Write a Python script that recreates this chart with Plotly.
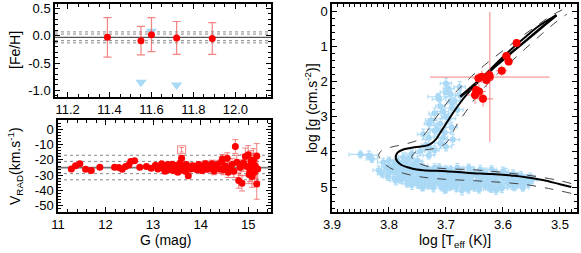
import plotly.graph_objects as go

# ---------------- DATA ----------------
# Top-left: [Fe/H] vs G (giants)
feh_g = [11.39, 11.55, 11.60, 11.72, 11.89]
feh_val = [-0.03, -0.09, 0.02, -0.04, -0.05]
feh_err = [0.36, 0.26, 0.31, 0.30, 0.29]
feh_lim_g = [11.55, 11.60, 11.72]
feh_lim_val = [-0.85, 0.08, -0.90]
feh_mean = -0.03
feh_dots = [0.07, 0.03, -0.09, -0.13]
feh_xticks = [11.2, 11.4, 11.6, 11.8, 12.0]
feh_yticks = [0.5, 0.0, -0.5, -1.0]
feh_yticktext = ["0.5", "0.0", "-0.5", "-1.0"]

# Bottom-left: radial velocity vs G
rv_g = [11.28, 11.37, 11.46, 11.58, 11.70, 11.88, 12.19, 12.28, 12.35, 12.42,
        12.49, 12.53, 12.61, 12.72, 12.86, 12.96,
        13.05, 13.10, 13.14, 13.18, 13.22, 13.25, 13.28, 13.31, 13.34, 13.37,
        13.40, 13.42, 13.45, 13.47, 13.50, 13.52, 13.55, 13.57, 13.60, 13.62,
        13.65, 13.68, 13.70, 13.74, 13.76, 13.80, 13.83, 13.86, 13.90, 13.93,
        13.96, 14.00, 14.03, 14.06, 14.10, 14.13, 14.17, 14.20, 14.24, 14.28,
        14.32, 14.36, 14.40, 14.44, 14.46, 14.48, 14.52, 14.56, 14.58, 14.62,
        14.66, 14.70, 14.73, 14.76, 14.80, 14.83, 14.87, 14.90, 14.94, 14.97,
        15.00, 15.02, 15.04, 15.06, 15.08, 15.08, 15.10, 15.11, 15.13, 15.15,
        15.18, 15.18, 15.20]
rv_val = [-25.9, -23.9, -22.6, -26.1, -27.0, -24.8, -24.8, -25.0, -26.1, -24.3,
          -23.3, -21.1, -20.6, -24.8, -24.3, -25.4,
          -23.5, -26.0, -24.8, -22.5, -25.5, -27.5, -24.0, -23.0, -26.5, -25.0,
          -22.8, -27.0, -24.5, -26.2, -23.5, -28.0, -25.5, -22.0, -18.9, -26.8,
          -24.0, -27.5, -23.0, -30.4, -25.0, -26.0, -23.8, -25.5, -24.5, -26.5,
          -23.0, -25.0, -27.0, -24.3, -22.5, -26.0, -24.0, -25.5, -22.6, -27.2,
          -24.8, -23.0, -26.0, -21.0, -19.5, -26.5, -24.0, -18.9, -28.0, -25.4,
          -23.0, -27.5, -11.3, -21.5, -33.5, -25.0, -35.3, -22.0, -17.8, -24.3,
          -16.7, -29.5, -27.6, -20.5, -22.6, -30.9, -25.5, -20.2, -28.0, -24.0,
          -17.4, -35.7, -26.0]
rv_err = [1.0, 1.0, 1.0, 1.0, 1.0, 1.0, 1.0, 1.0, 1.0, 1.0,
          1.0, 1.0, 1.0, 1.0, 1.0, 1.0,
          1.0, 1.0, 1.0, 1.0, 1.2, 1.2, 1.2, 1.2, 1.2, 1.2,
          1.3, 1.3, 1.3, 1.3, 1.3, 1.4, 1.4, 1.4, 1.5, 1.5,
          1.5, 1.5, 1.5, 1.6, 1.6, 1.6, 1.7, 1.7, 1.8, 1.8,
          1.9, 1.9, 2.0, 2.0, 2.1, 2.2, 2.3, 2.3, 2.4, 2.5,
          2.6, 2.7, 2.8, 3.0, 3.0, 3.2, 3.3, 3.5, 3.5, 3.8,
          4.0, 4.0, 4.5, 4.5, 5.0, 5.0, 5.0, 5.5, 5.5, 6.0,
          6.0, 6.0, 6.5, 6.5, 7.0, 7.0, 7.0, 7.5, 7.5, 8.0,
          8.0, 10.0, 8.0]
rv_out_g = [13.60]
rv_out_val = [-13.4]
rv_out_err = [1.5]
rv_mean = -25.0
rv_dots = [-17.0, -21.0, -29.0, -33.0]
rv_xticks = [11, 12, 13, 14, 15]
rv_yticks = [0, -10, -20, -30, -40, -50]
rv_yticktext = ["0", "-10", "-20", "-30", "-40", "-50"]

# Right: Kiel diagram — giants (red)
hr_teff = [3.576, 3.594, 3.590, 3.602, 3.624, 3.629, 3.637, 3.643, 3.647, 3.642, 3.649, 3.635]
hr_logg = [0.90, 1.27, 1.43, 1.69, 1.81, 1.95, 1.86, 1.90, 2.24, 2.28, 2.38, 2.49]
hr_teff_err = [0.006, 0.008, 0.008, 0.010, 0.010, 0.012, 0.012, 0.010, 0.012, 0.012, 0.014, 0.018]
hr_logg_err = [0.10, 0.12, 0.12, 0.15, 0.15, 0.20, 0.18, 0.15, 0.20, 0.20, 0.25, 0.22]
hr_big_teff = [3.623]
hr_big_logg = [1.87]
hr_big_teff_err = [0.105]
hr_big_logg_err = [1.85]

# Right: dwarfs / subgiants (light blue)
dw_teff = [3.850, 3.835, 3.830, 3.800, 3.790, 3.795, 3.785, 3.780, 3.775, 3.770,
           3.770, 3.765, 3.760, 3.755, 3.750, 3.750, 3.745, 3.740, 3.735, 3.730,
           3.725, 3.720, 3.715, 3.710, 3.705, 3.700, 3.695, 3.690, 3.685, 3.680,
           3.675, 3.670, 3.665, 3.660, 3.655, 3.650, 3.645, 3.640, 3.635, 3.630,
           3.625, 3.620, 3.615, 3.610, 3.605, 3.600, 3.595, 3.590, 3.585, 3.580,
           3.575, 3.570, 3.565, 3.560, 3.555, 3.550, 3.790, 3.780, 3.760, 3.740,
           3.720, 3.700, 3.680, 3.660, 3.640, 3.620, 3.600, 3.700, 3.660, 3.805,
           3.775, 3.760, 3.745, 3.730, 3.720, 3.765, 3.750, 3.700, 3.690, 3.680,
           3.700, 3.710, 3.720, 3.730, 3.705, 3.690, 3.675, 3.695, 3.710, 3.720,
           3.730, 3.740, 3.735, 3.710, 3.714, 3.785, 3.770, 3.755, 3.735, 3.715,
           3.695, 3.675, 3.655, 3.635, 3.615, 3.595, 3.575, 3.745, 3.725, 3.705,
           3.685, 3.665, 3.645, 3.625, 3.605, 3.585, 3.565, 3.810, 3.800, 3.790,
           3.800, 3.780, 3.760, 3.742, 3.712, 3.818, 3.792, 3.772, 3.752, 3.732,
           3.692, 3.652, 3.812, 3.782, 3.762, 3.738, 3.722, 3.702, 3.682, 3.642,
           3.612, 3.582, 3.802, 3.772, 3.748, 3.728, 3.708, 3.688, 3.668, 3.628,
           3.598, 3.568, 3.552, 3.788, 3.758, 3.738, 3.718, 3.698, 3.678, 3.658,
           3.638, 3.618, 3.588, 3.562, 3.768, 3.748, 3.728, 3.708, 3.688, 3.668,
           3.648, 3.628, 3.608, 3.578, 3.742, 3.722, 3.702, 3.682, 3.662, 3.642,
           3.622, 3.602, 3.702, 3.672, 3.642, 3.612, 3.700, 3.692, 3.685, 3.712,
           3.705, 3.695, 3.726, 3.716, 3.702, 3.688, 3.676, 3.690, 3.700, 3.728]
dw_logg = [4.07, 4.10, 4.20, 4.25, 4.35, 4.50, 4.60, 4.45, 4.70, 4.55,
           4.30, 4.80, 4.62, 4.50, 4.72, 4.90, 4.60, 4.80, 4.68, 4.95,
           4.55, 4.75, 4.85, 4.65, 4.90, 4.60, 4.78, 4.98, 4.70, 4.85,
           4.55, 4.95, 4.75, 4.62, 4.88, 5.02, 4.70, 4.80, 4.58, 4.95,
           4.75, 5.05, 4.68, 4.85, 4.95, 4.72, 4.62, 4.90, 4.78, 5.00,
           4.70, 4.85, 4.95, 4.75, 4.88, 4.80, 4.40, 4.80, 4.95, 5.00,
           4.45, 4.50, 4.45, 4.45, 4.50, 4.50, 4.55, 5.05, 5.05, 4.45,
           4.15, 4.05, 3.98, 4.10, 3.95, 4.20, 4.25, 2.30, 2.60, 2.80,
           3.00, 3.20, 3.40, 3.60, 3.60, 3.30, 2.40, 2.20, 2.70, 2.90,
           3.20, 3.50, 3.80, 3.75, 2.43, 4.25, 4.40, 4.35, 4.50, 4.52,
           4.62, 4.65, 4.68, 4.70, 4.72, 4.75, 4.80, 4.85, 4.90, 4.95,
           4.92, 4.90, 4.95, 4.98, 5.00, 4.95, 5.02, 4.30, 4.60, 4.75,
           4.42, 4.38, 4.41, 4.39, 4.44, 4.52, 4.49, 4.51, 4.48, 4.53,
           4.50, 4.55, 4.62, 4.60, 4.58, 4.61, 4.59, 4.63, 4.60, 4.64,
           4.62, 4.63, 4.71, 4.69, 4.72, 4.70, 4.71, 4.69, 4.73, 4.70,
           4.72, 4.68, 4.70, 4.82, 4.80, 4.81, 4.79, 4.82, 4.80, 4.83,
           4.81, 4.79, 4.82, 4.78, 4.90, 4.91, 4.89, 4.92, 4.90, 4.93,
           4.91, 4.89, 4.92, 4.90, 5.00, 5.02, 4.99, 5.01, 5.03, 5.00,
           5.02, 5.04, 5.08, 5.10, 5.07, 5.09, 2.05, 2.35, 2.55, 2.50,
           2.85, 3.05, 3.10, 3.35, 3.45, 3.65, 2.15, 2.75, 3.85, 3.90]
dw_teff_err = [0.020, 0.015, 0.010, 0.010, 0.010, 0.012, 0.010, 0.008, 0.010, 0.008,
               0.010, 0.010, 0.008, 0.010, 0.008, 0.010, 0.008, 0.010, 0.008, 0.010,
               0.008, 0.010, 0.008, 0.010, 0.008, 0.010, 0.008, 0.010, 0.008, 0.010,
               0.008, 0.010, 0.008, 0.010, 0.012, 0.010, 0.008, 0.012, 0.008, 0.010,
               0.008, 0.010, 0.008, 0.010, 0.008, 0.012, 0.008, 0.010, 0.008, 0.010,
               0.008, 0.010, 0.008, 0.010, 0.008, 0.010, 0.010, 0.008, 0.010, 0.008,
               0.010, 0.008, 0.010, 0.008, 0.010, 0.008, 0.010, 0.008, 0.010, 0.008,
               0.008, 0.010, 0.008, 0.010, 0.008, 0.010, 0.008, 0.010, 0.008, 0.010,
               0.008, 0.010, 0.008, 0.010, 0.008, 0.010, 0.008, 0.010, 0.008, 0.010,
               0.008, 0.010, 0.008, 0.010, 0.018, 0.008, 0.010, 0.008, 0.010, 0.008,
               0.010, 0.008, 0.010, 0.008, 0.010, 0.008, 0.010, 0.008, 0.010, 0.008,
               0.010, 0.008, 0.010, 0.008, 0.010, 0.008, 0.010, 0.010, 0.008, 0.010,
               0.008, 0.010, 0.008, 0.010, 0.008, 0.010, 0.008, 0.010, 0.008, 0.010,
               0.008, 0.010, 0.008, 0.010, 0.008, 0.010, 0.008, 0.010, 0.008, 0.010,
               0.008, 0.010, 0.008, 0.010, 0.008, 0.010, 0.008, 0.010, 0.008, 0.010,
               0.008, 0.010, 0.008, 0.010, 0.008, 0.010, 0.008, 0.010, 0.008, 0.010,
               0.008, 0.010, 0.008, 0.010, 0.008, 0.010, 0.008, 0.010, 0.008, 0.010,
               0.008, 0.010, 0.008, 0.010, 0.008, 0.010, 0.008, 0.010, 0.008, 0.010,
               0.008, 0.010, 0.008, 0.010, 0.008, 0.010, 0.010, 0.012, 0.010, 0.012,
               0.010, 0.012, 0.010, 0.012, 0.010, 0.012, 0.010, 0.012, 0.010, 0.012]
dw_logg_err = [0.10, 0.12, 0.10, 0.10, 0.12, 0.10, 0.12, 0.10, 0.12, 0.10,
               0.12, 0.10, 0.12, 0.10, 0.12, 0.10, 0.15, 0.10, 0.12, 0.10,
               0.12, 0.10, 0.12, 0.10, 0.12, 0.10, 0.15, 0.10, 0.12, 0.10,
               0.12, 0.10, 0.12, 0.10, 0.12, 0.10, 0.15, 0.10, 0.12, 0.10,
               0.12, 0.10, 0.12, 0.10, 0.12, 0.10, 0.15, 0.10, 0.12, 0.10,
               0.12, 0.10, 0.12, 0.10, 0.12, 0.10, 0.12, 0.10, 0.12, 0.10,
               0.12, 0.10, 0.12, 0.10, 0.12, 0.10, 0.12, 0.10, 0.12, 0.10,
               0.12, 0.10, 0.12, 0.10, 0.12, 0.10, 0.12, 0.15, 0.15, 0.15,
               0.15, 0.15, 0.15, 0.15, 0.15, 0.15, 0.15, 0.15, 0.15, 0.15,
               0.15, 0.15, 0.15, 0.15, 0.10, 0.12, 0.10, 0.12, 0.10, 0.12,
               0.10, 0.12, 0.10, 0.12, 0.10, 0.12, 0.10, 0.12, 0.10, 0.12,
               0.10, 0.12, 0.10, 0.12, 0.10, 0.12, 0.10, 0.12, 0.10, 0.12,
               0.10, 0.12, 0.10, 0.12, 0.10, 0.12, 0.10, 0.12, 0.10, 0.12,
               0.10, 0.12, 0.10, 0.12, 0.10, 0.12, 0.10, 0.12, 0.10, 0.12,
               0.10, 0.12, 0.10, 0.12, 0.10, 0.12, 0.10, 0.12, 0.10, 0.12,
               0.10, 0.12, 0.10, 0.12, 0.10, 0.12, 0.10, 0.12, 0.10, 0.12,
               0.10, 0.12, 0.10, 0.12, 0.10, 0.12, 0.10, 0.12, 0.10, 0.12,
               0.10, 0.12, 0.10, 0.12, 0.10, 0.12, 0.10, 0.12, 0.10, 0.12,
               0.10, 0.12, 0.10, 0.12, 0.10, 0.12, 0.15, 0.15, 0.15, 0.15,
               0.15, 0.15, 0.15, 0.15, 0.15, 0.15, 0.15, 0.15, 0.12, 0.12]

# Right: isochrones
iso_teff = [3.480, 3.500, 3.530, 3.560, 3.580, 3.620, 3.660, 3.700, 3.740, 3.760,
            3.780, 3.788, 3.785, 3.775, 3.755, 3.730, 3.718, 3.708, 3.698, 3.688,
            3.675, 3.660, 3.640, 3.620, 3.600, 3.580, 3.560, 3.540, 3.506]
iso_logg = [5.00, 4.92, 4.80, 4.72, 4.68, 4.63, 4.60, 4.55, 4.52, 4.47,
            4.35, 4.18, 4.02, 3.93, 3.87, 3.80, 3.65, 3.40, 3.15, 2.90,
            2.60, 2.30, 1.95, 1.62, 1.30, 1.00, 0.72, 0.45, 0.11]
agb_teff = [3.675, 3.650, 3.620, 3.590, 3.560, 3.530, 3.506]
agb_logg = [2.43, 2.08, 1.66, 1.24, 0.84, 0.43, 0.11]
iso_hot_teff = [3.480, 3.520, 3.560, 3.600, 3.650, 3.700, 3.740, 3.780, 3.805, 3.818,
                3.812, 3.795, 3.770, 3.748, 3.735, 3.725, 3.712, 3.698, 3.680, 3.655,
                3.630, 3.600, 3.570, 3.540, 3.515, 3.495]
iso_hot_logg = [5.18, 5.04, 4.93, 4.87, 4.82, 4.78, 4.72, 4.58, 4.38, 4.10,
                3.95, 3.86, 3.77, 3.65, 3.45, 3.20, 2.90, 2.60, 2.25, 1.85,
                1.50, 1.12, 0.75, 0.40, 0.12, -0.05]
iso_cool_teff = [3.480, 3.500, 3.540, 3.580, 3.620, 3.660, 3.700, 3.730, 3.750, 3.760,
                 3.755, 3.740, 3.720, 3.700, 3.690, 3.680, 3.665, 3.650, 3.630, 3.610,
                 3.585, 3.560, 3.530, 3.505, 3.488]
iso_cool_logg = [4.90, 4.82, 4.70, 4.62, 4.55, 4.50, 4.48, 4.42, 4.30, 4.15,
                 4.02, 3.95, 3.90, 3.75, 3.50, 3.20, 2.85, 2.50, 2.12, 1.78,
                 1.42, 1.05, 0.62, 0.28, 0.08]
hr_xticks = [3.9, 3.8, 3.7, 3.6, 3.5]
hr_yticks = [0, 1, 2, 3, 4, 5]

# ---------------- STYLE ----------------
RED = "#ff0000"
RED_ERR = "rgba(240,90,90,0.75)"
BLUE = "#aad9f6"
BLUE_ERR = "rgba(170,217,246,0.9)"
FONT = "Liberation Sans, Arial, Helvetica, sans-serif"

fig = go.Figure()

# top-left
fig.add_trace(go.Scatter(x=feh_lim_g, y=feh_lim_val, mode="markers", xaxis="x", yaxis="y",
                         marker=dict(symbol="triangle-down", size=10, color=BLUE), showlegend=False))
fig.add_trace(go.Scatter(x=feh_g, y=feh_val, mode="markers", xaxis="x", yaxis="y",
                         error_y=dict(type="data", array=feh_err, color=RED_ERR, thickness=1.2, width=4),
                         marker=dict(size=7, color=RED), showlegend=False))

# bottom-left
fig.add_trace(go.Scatter(x=rv_g, y=rv_val, mode="markers", xaxis="x2", yaxis="y2",
                         error_y=dict(type="data", array=rv_err, color=RED_ERR, thickness=1, width=3),
                         marker=dict(size=7, color=RED), showlegend=False))
fig.add_trace(go.Scatter(x=rv_out_g, y=rv_out_val, mode="markers", xaxis="x2", yaxis="y2",
                         error_y=dict(type="data", array=rv_out_err, color=RED_ERR, thickness=1, width=2),
                         marker=dict(symbol="square-open", size=8, color=RED_ERR, line=dict(width=1)),
                         showlegend=False))

# right panel
fig.add_trace(go.Scatter(x=dw_teff, y=dw_logg, mode="markers", xaxis="x3", yaxis="y3",
                         error_x=dict(type="data", array=dw_teff_err, color=BLUE_ERR, thickness=1.2, width=2),
                         error_y=dict(type="data", array=dw_logg_err, color=BLUE_ERR, thickness=1.2, width=2),
                         marker=dict(size=6, color=BLUE), showlegend=False))
fig.add_trace(go.Scatter(x=iso_hot_teff, y=iso_hot_logg, mode="lines", xaxis="x3", yaxis="y3",
                         line=dict(color="#444444", width=1, dash="dash", shape="spline"), showlegend=False))
fig.add_trace(go.Scatter(x=iso_cool_teff, y=iso_cool_logg, mode="lines", xaxis="x3", yaxis="y3",
                         line=dict(color="#444444", width=1, dash="dash", shape="spline"), showlegend=False))
fig.add_trace(go.Scatter(x=iso_teff, y=iso_logg, mode="lines", xaxis="x3", yaxis="y3",
                         line=dict(color="black", width=2, shape="spline"), showlegend=False))
fig.add_trace(go.Scatter(x=agb_teff, y=agb_logg, mode="lines", xaxis="x3", yaxis="y3",
                         line=dict(color="black", width=2.5, shape="spline"), showlegend=False))
fig.add_trace(go.Scatter(x=hr_big_teff, y=hr_big_logg, mode="markers", xaxis="x3", yaxis="y3",
                         error_x=dict(type="data", array=hr_big_teff_err, color=RED_ERR, thickness=1, width=0),
                         error_y=dict(type="data", array=hr_big_logg_err, color=RED_ERR, thickness=1, width=0),
                         marker=dict(size=8, color=RED), showlegend=False))
fig.add_trace(go.Scatter(x=hr_teff, y=hr_logg, mode="markers", xaxis="x3", yaxis="y3",
                         error_x=dict(type="data", array=hr_teff_err, color=RED_ERR, thickness=1, width=0),
                         error_y=dict(type="data", array=hr_logg_err, color=RED_ERR, thickness=1, width=0),
                         marker=dict(size=8, color=RED), showlegend=False))

shapes = []
shapes.append(dict(type="line", xref="x domain", yref="y", x0=0, x1=1, y0=feh_mean, y1=feh_mean,
                   line=dict(color="#555555", width=1.2), layer="below"))
for d in feh_dots:
    shapes.append(dict(type="line", xref="x domain", yref="y", x0=0, x1=1, y0=d, y1=d,
                       line=dict(color="#888888", width=1, dash="dot"), layer="below"))
shapes.append(dict(type="line", xref="x2 domain", yref="y2", x0=0, x1=1, y0=rv_mean, y1=rv_mean,
                   line=dict(color="#777777", width=1.8), layer="below"))
for d in rv_dots:
    shapes.append(dict(type="line", xref="x2 domain", yref="y2", x0=0, x1=1, y0=d, y1=d,
                       line=dict(color="#888888", width=1, dash="dot"), layer="below"))

W, H = 581, 253
def dx(a, b):
    return [a / W, b / W]
def dy(top, bot):
    return [1 - bot / H, 1 - top / H]

axis_common = dict(showline=True, linecolor="black", linewidth=1.5, mirror="allticks",
                   ticks="inside", ticklen=5, tickwidth=1, tickcolor="black",
                   showgrid=False, zeroline=False, automargin=False,
                   tickfont=dict(family=FONT, size=13, color="black"))

title_font = dict(family=FONT, size=14, color="black")
annotations = [
    dict(text="[Fe/H]", x=15 / W, y=1 - 50 / H, textangle=-90),
    dict(text="V<sub>RAD</sub>(km.s<sup>-1</sup>)", x=15 / W, y=1 - 166 / H, textangle=-90),
    dict(text="G (mag)", x=165 / W, y=1 - 240 / H, textangle=0),
    dict(text="log [T<sub>eff</sub> (K)]", x=455 / W, y=1 - 241 / H, textangle=0),
    dict(text="log [g (cm.s<sup>-2</sup>)]", x=311 / W, y=1 - 108 / H, textangle=-90),
]
for a in annotations:
    a.update(xref="paper", yref="paper", showarrow=False, font=title_font,
             xanchor="center", yanchor="middle")

fig.update_layout(
    width=W, height=H, margin=dict(l=0, r=0, t=0, b=0, pad=0),
    plot_bgcolor="white", paper_bgcolor="white", shapes=shapes, annotations=annotations,
    xaxis=dict(domain=dx(55, 271), anchor="y", range=[11.14, 12.17],
               tickvals=feh_xticks, ticktext=[f"{v:.1f}" for v in feh_xticks],
               minor=dict(ticks="inside", ticklen=3, dtick=0.05, tickcolor="black"), **axis_common),
    yaxis=dict(domain=dy(4, 97), anchor="x", range=[-1.12, 0.58],
               tickvals=feh_yticks, ticktext=feh_yticktext,
               minor=dict(ticks="inside", ticklen=3, dtick=0.1, tickcolor="black"), **axis_common),
    xaxis2=dict(domain=dx(58, 271), anchor="y2", range=[11.0, 15.48],
                tickvals=rv_xticks, ticktext=[str(v) for v in rv_xticks],
                minor=dict(ticks="inside", ticklen=3, dtick=0.2, tickcolor="black"), **axis_common),
    yaxis2=dict(domain=dy(120, 212), anchor="x2", range=[-54, 6],
                tickvals=rv_yticks, ticktext=rv_yticktext,
                minor=dict(ticks="inside", ticklen=3, dtick=2, tickcolor="black"), **axis_common),
    xaxis3=dict(domain=dx(332, 577), anchor="y3", range=[3.9, 3.47],
                tickvals=hr_xticks, ticktext=[f"{v:.1f}" for v in hr_xticks],
                minor=dict(ticks="inside", ticklen=3, dtick=0.01, tickcolor="black"), **axis_common),
    yaxis3=dict(domain=dy(4, 212), anchor="x3", range=[5.71, -0.21],
                tickvals=hr_yticks, ticktext=[str(v) for v in hr_yticks],
                minor=dict(ticks="inside", ticklen=3, dtick=0.2, tickcolor="black"), **axis_common),
)

fig.write_html("out.html", config={"displayModeBar": False},
               post_script="document.body.style.margin='0px';document.body.style.overflow='hidden';")
